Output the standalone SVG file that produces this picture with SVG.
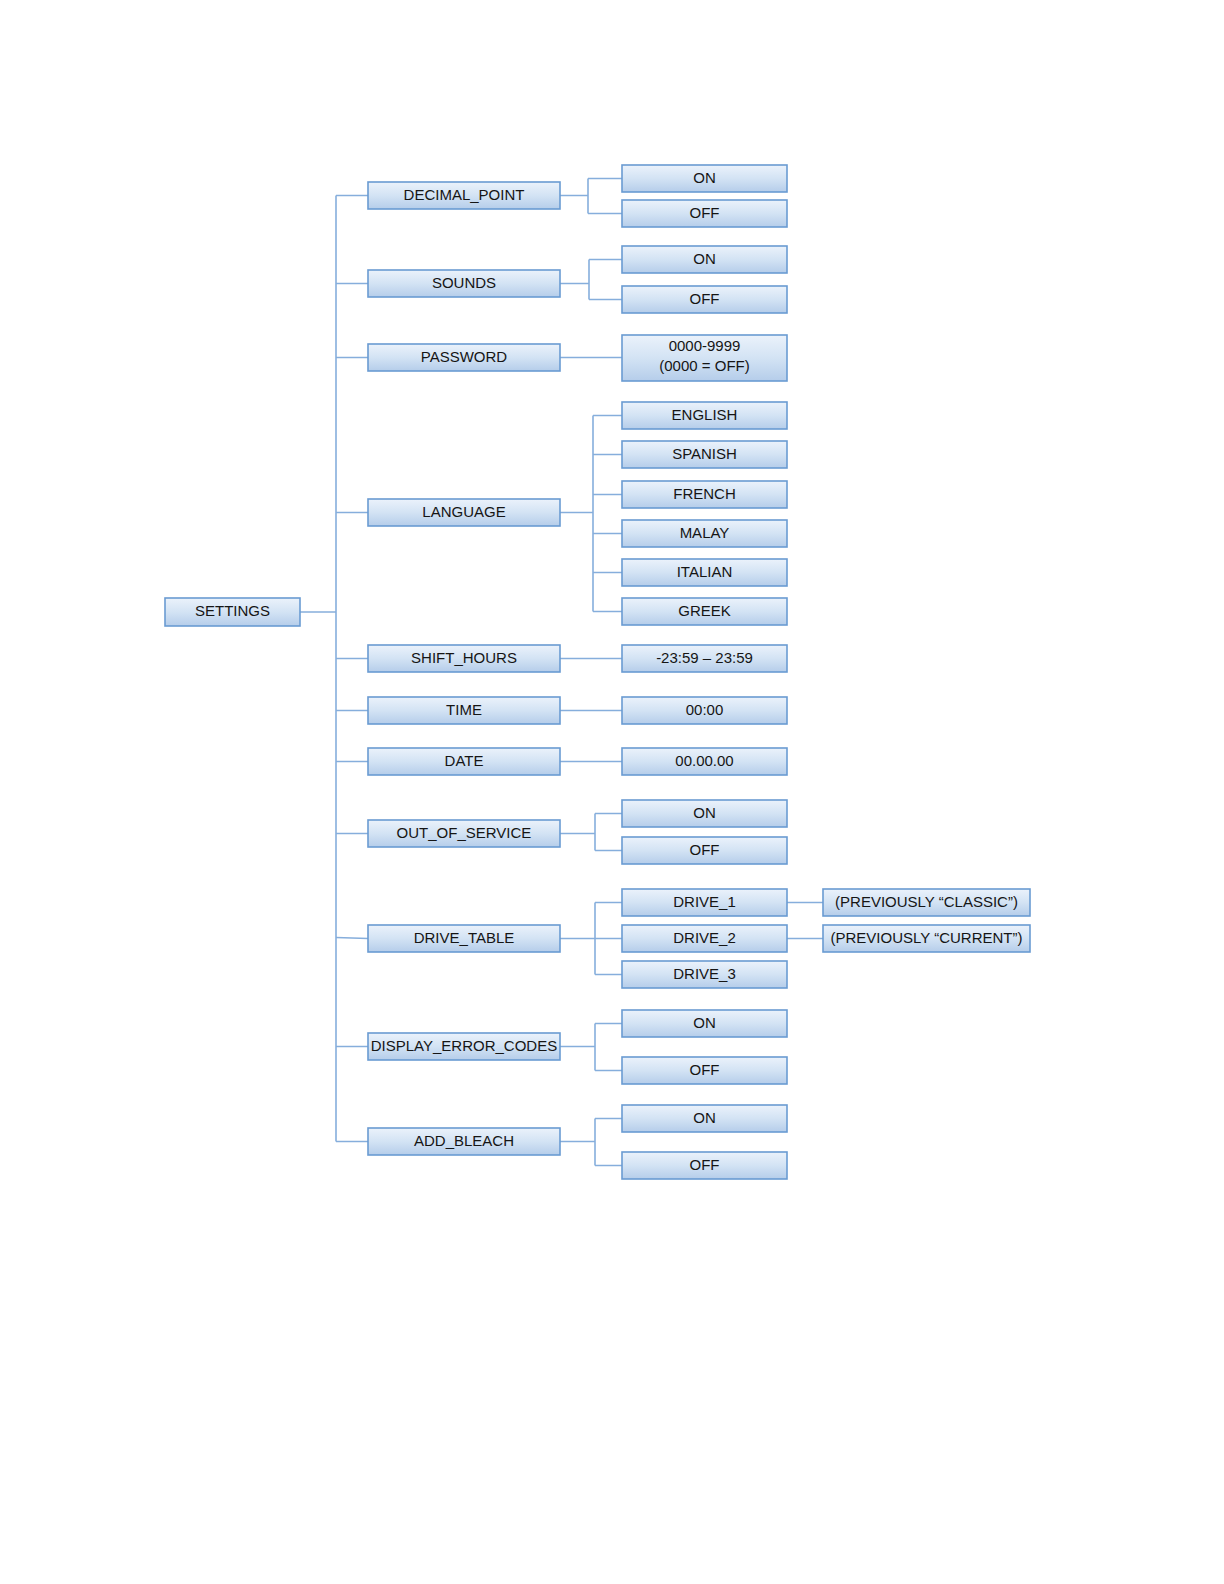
<svg xmlns="http://www.w3.org/2000/svg" width="1224" height="1584" viewBox="0 0 1224 1584">
<defs>
<linearGradient id="g" x1="0" y1="0" x2="0" y2="1">
<stop offset="0" stop-color="#ebf2fb"/>
<stop offset="0.5" stop-color="#d3e3f4"/>
<stop offset="1" stop-color="#b5cdea"/>
</linearGradient>
</defs>
<style>
.b{fill:url(#g);stroke:#6a9bd2;stroke-width:1.6}
.t{font-family:"Liberation Sans",Arial,sans-serif;font-size:15px;fill:#151515;text-anchor:middle}
.c{fill:none;stroke:#86aedc;stroke-width:1.6}
</style>
<rect width="1224" height="1584" fill="#ffffff"/>
<g id="connectors">
<path class="c" d="M300,612H336M336,195.5V1141.5"/>
<path class="c" d="M336,195.5H368M336,283.5H368M336,357.5H368M336,512.5H368M336,658.5H368M336,710.5H368M336,761.5H368M336,833.5H368M336,937.5L368,938.5M336,1046.5H368M336,1141.5H368"/>
<path class="c" d="M560,195.5H588M588,178.5V213.5M588,178.5H622M588,213.5H622"/>
<path class="c" d="M560,283.5H589M589,259.5V299.5M589,259.5H622M589,299.5H622"/>
<path class="c" d="M560,357.5H622"/>
<path class="c" d="M560,512.5H593M593,415.5V611.5M593,415.5H622M593,454.5H622M593,494.5H622M593,533.5H622M593,572.5H622M593,611.5H622"/>
<path class="c" d="M560,658.5H622M560,710.5H622M560,761.5H622"/>
<path class="c" d="M560,833.5H595M595,813.5V850.5M595,813.5H622M595,850.5H622"/>
<path class="c" d="M560,938.5H622M595,902.5V974.5M595,902.5H622M595,974.5H622"/>
<path class="c" d="M787,902.5H823M787,938.5H823"/>
<path class="c" d="M560,1046.5H595M595,1023.5V1070.5M595,1023.5H622M595,1070.5H622"/>
<path class="c" d="M560,1141.5H595M595,1118.5V1165.5M595,1118.5H622M595,1165.5H622"/>
</g>
<g id="settings"><rect class="b" x="165" y="598" width="135" height="28"/><text class="t" x="232.5" y="616">SETTINGS</text></g>
<g id="decimal_point"><rect class="b" x="368" y="182" width="192" height="27"/><text class="t" x="464" y="200">DECIMAL_POINT</text></g>
<g id="dp_on"><rect class="b" x="622" y="165" width="165" height="27"/><text class="t" x="704.5" y="183">ON</text></g>
<g id="dp_off"><rect class="b" x="622" y="200" width="165" height="27"/><text class="t" x="704.5" y="218">OFF</text></g>
<g id="sounds"><rect class="b" x="368" y="270" width="192" height="27"/><text class="t" x="464" y="288">SOUNDS</text></g>
<g id="sounds_on"><rect class="b" x="622" y="246" width="165" height="27"/><text class="t" x="704.5" y="264">ON</text></g>
<g id="sounds_off"><rect class="b" x="622" y="286" width="165" height="27"/><text class="t" x="704.5" y="304">OFF</text></g>
<g id="password"><rect class="b" x="368" y="344" width="192" height="27"/><text class="t" x="464" y="362">PASSWORD</text></g>
<g id="password_val"><rect class="b" x="622" y="335" width="165" height="46"/><text class="t" x="704.5" y="351">0000-9999</text><text class="t" x="704.5" y="371">(0000 = OFF)</text></g>
<g id="language"><rect class="b" x="368" y="499" width="192" height="27"/><text class="t" x="464" y="517">LANGUAGE</text></g>
<g id="english"><rect class="b" x="622" y="402" width="165" height="27"/><text class="t" x="704.5" y="420">ENGLISH</text></g>
<g id="spanish"><rect class="b" x="622" y="441" width="165" height="27"/><text class="t" x="704.5" y="459">SPANISH</text></g>
<g id="french"><rect class="b" x="622" y="481" width="165" height="27"/><text class="t" x="704.5" y="499">FRENCH</text></g>
<g id="malay"><rect class="b" x="622" y="520" width="165" height="27"/><text class="t" x="704.5" y="538">MALAY</text></g>
<g id="italian"><rect class="b" x="622" y="559" width="165" height="27"/><text class="t" x="704.5" y="577">ITALIAN</text></g>
<g id="greek"><rect class="b" x="622" y="598" width="165" height="27"/><text class="t" x="704.5" y="616">GREEK</text></g>
<g id="shift_hours"><rect class="b" x="368" y="645" width="192" height="27"/><text class="t" x="464" y="663">SHIFT_HOURS</text></g>
<g id="shift_val"><rect class="b" x="622" y="645" width="165" height="27"/><text class="t" x="704.5" y="663">-23:59 – 23:59</text></g>
<g id="time"><rect class="b" x="368" y="697" width="192" height="27"/><text class="t" x="464" y="715">TIME</text></g>
<g id="time_val"><rect class="b" x="622" y="697" width="165" height="27"/><text class="t" x="704.5" y="715">00:00</text></g>
<g id="date"><rect class="b" x="368" y="748" width="192" height="27"/><text class="t" x="464" y="766">DATE</text></g>
<g id="date_val"><rect class="b" x="622" y="748" width="165" height="27"/><text class="t" x="704.5" y="766">00.00.00</text></g>
<g id="out_of_service"><rect class="b" x="368" y="820" width="192" height="27"/><text class="t" x="464" y="838">OUT_OF_SERVICE</text></g>
<g id="oos_on"><rect class="b" x="622" y="800" width="165" height="27"/><text class="t" x="704.5" y="818">ON</text></g>
<g id="oos_off"><rect class="b" x="622" y="837" width="165" height="27"/><text class="t" x="704.5" y="855">OFF</text></g>
<g id="drive_table"><rect class="b" x="368" y="925" width="192" height="27"/><text class="t" x="464" y="943">DRIVE_TABLE</text></g>
<g id="drive_1"><rect class="b" x="622" y="889" width="165" height="27"/><text class="t" x="704.5" y="907">DRIVE_1</text></g>
<g id="drive_2"><rect class="b" x="622" y="925" width="165" height="27"/><text class="t" x="704.5" y="943">DRIVE_2</text></g>
<g id="drive_3"><rect class="b" x="622" y="961" width="165" height="27"/><text class="t" x="704.5" y="979">DRIVE_3</text></g>
<g id="prev_classic"><rect class="b" x="823" y="889" width="207" height="27"/><text class="t" x="926.5" y="907">(PREVIOUSLY “CLASSIC”)</text></g>
<g id="prev_current"><rect class="b" x="823" y="925" width="207" height="27"/><text class="t" x="926.5" y="943">(PREVIOUSLY “CURRENT”)</text></g>
<g id="display_error_codes"><rect class="b" x="368" y="1033" width="192" height="27"/><text class="t" x="464" y="1051">DISPLAY_ERROR_CODES</text></g>
<g id="dec_on"><rect class="b" x="622" y="1010" width="165" height="27"/><text class="t" x="704.5" y="1028">ON</text></g>
<g id="dec_off"><rect class="b" x="622" y="1057" width="165" height="27"/><text class="t" x="704.5" y="1075">OFF</text></g>
<g id="add_bleach"><rect class="b" x="368" y="1128" width="192" height="27"/><text class="t" x="464" y="1146">ADD_BLEACH</text></g>
<g id="ab_on"><rect class="b" x="622" y="1105" width="165" height="27"/><text class="t" x="704.5" y="1123">ON</text></g>
<g id="ab_off"><rect class="b" x="622" y="1152" width="165" height="27"/><text class="t" x="704.5" y="1170">OFF</text></g>
</svg>
